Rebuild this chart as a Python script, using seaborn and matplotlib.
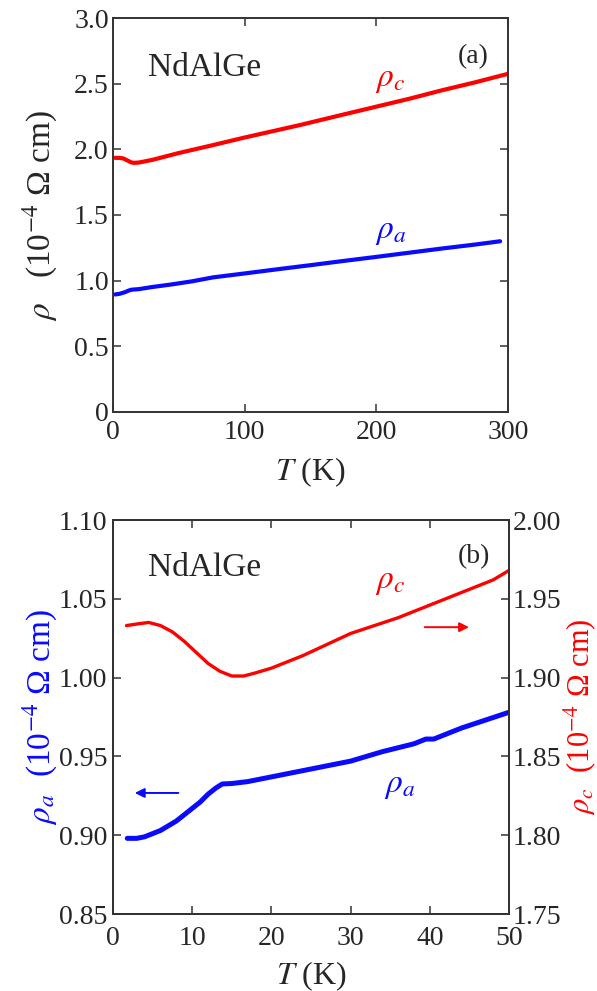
import numpy as np
import pandas as pd
import matplotlib
matplotlib.use("Agg")
import matplotlib.pyplot as plt
import seaborn as sns

# ---------------- data ----------------
# panel (a): 0-300 K
T_a_top = [1.5, 5, 9, 12, 14, 20, 30, 45, 60, 76, 80, 100, 125, 150, 175, 200, 225, 250, 275, 294]
rho_a_top = [0.895, 0.900, 0.912, 0.925, 0.931, 0.936, 0.952, 0.972, 0.995, 1.025, 1.030,
             1.055, 1.087, 1.118, 1.150, 1.181, 1.213, 1.245, 1.275, 1.300]
T_c_top = [1.5, 5, 8, 11, 14, 16, 20, 30, 50, 75, 100, 142, 175, 200, 225, 250, 275, 300]
rho_c_top = [1.935, 1.935, 1.930, 1.915, 1.900, 1.897, 1.900, 1.920, 1.972, 2.030, 2.090,
             2.185, 2.265, 2.325, 2.385, 2.450, 2.510, 2.575]

# panel (b): 0-50 K
T_a = [1.8, 3, 4, 5, 6, 7, 8, 9, 10, 11, 12, 13, 13.8, 15, 17, 20, 24, 28, 30, 34, 38,
       39.5, 40.5, 44, 47, 50]
rho_a = [0.898, 0.898, 0.899, 0.901, 0.903, 0.906, 0.909, 0.913, 0.917, 0.921, 0.926, 0.930,
         0.9325, 0.9328, 0.934, 0.937, 0.941, 0.945, 0.947, 0.953, 0.958, 0.961, 0.961,
         0.968, 0.973, 0.978]
T_c = [1.7, 3, 4.5, 6, 7.5, 9, 10.5, 12, 13.5, 15, 16.5, 18, 20, 22, 24, 27, 30, 33, 36,
       39, 42, 45, 48, 50]
rho_c = [1.933, 1.934, 1.935, 1.933, 1.929, 1.923, 1.916, 1.909, 1.904, 1.901, 1.901, 1.903,
         1.906, 1.910, 1.914, 1.921, 1.928, 1.933, 1.938, 1.944, 1.950, 1.956, 1.962, 1.968]

xticks_top = [0, 100, 200, 300]
yticks_top = [0, 0.5, 1.0, 1.5, 2.0, 2.5, 3.0]
yticklabels_top = ["0", "0.5", "1.0", "1.5", "2.0", "2.5", "3.0"]
xticks_bot = [0, 10, 20, 30, 40, 50]
yticks_left = [0.85, 0.90, 0.95, 1.00, 1.05, 1.10]
yticks_right = [1.75, 1.80, 1.85, 1.90, 1.95, 2.00]

# ---------------- style ----------------
sns.set_style("ticks")
plt.rcParams["font.family"] = ["Liberation Serif", "DejaVu Serif"]
plt.rcParams["mathtext.fontset"] = "stix"
SPINE = "#333333"
RED = "#ff0000"
BLUE = "#0a0aff"

W, H = 597, 991
fig = plt.figure(figsize=(W / 100, H / 100), dpi=100)


def fx(px):
    return px / W


def fy(py):
    return 1 - py / H


ax1 = fig.add_axes([fx(113), fy(412), 395 / W, 394 / H])
ax2 = fig.add_axes([fx(113), fy(914), 396 / W, 394 / H])
ax3 = ax2.twinx()

df_a_top = pd.DataFrame({"T": T_a_top, "rho": rho_a_top})
df_c_top = pd.DataFrame({"T": T_c_top, "rho": rho_c_top})
df_a = pd.DataFrame({"T": T_a, "rho": rho_a})
df_c = pd.DataFrame({"T": T_c, "rho": rho_c})

sns.lineplot(data=df_c_top, x="T", y="rho", ax=ax1, color=RED, lw=3.0)
sns.lineplot(data=df_a_top, x="T", y="rho", ax=ax1, color=BLUE, lw=3.0)
sns.lineplot(data=df_a, x="T", y="rho", ax=ax2, color=BLUE, lw=3.6)
sns.lineplot(data=df_c, x="T", y="rho", ax=ax3, color=RED, lw=2.4)

LABEL_FS = 24
YLAB = r"(10$^{-4}$ Ω cm)"

# axes (a)
ax1.set_xlim(0, 300)
ax1.set_ylim(0, 3.0)
ax1.set_xticks(xticks_top)
ax1.set_xticklabels([str(t) for t in xticks_top])
ax1.set_yticks(yticks_top)
ax1.set_yticklabels(yticklabels_top)
ax1.set_xlabel(r"$T$ (K)", fontsize=23, labelpad=7)
ax1.set_ylabel(r"$\rho$   " + YLAB, fontsize=LABEL_FS)
ax1.yaxis.set_label_coords(-0.135, 0.5)
ax1.tick_params(direction="in", top=True, right=True, length=6, width=1.1,
                labelsize=20, color=SPINE)
ax1.tick_params(axis="x", pad=6)
ax1.tick_params(axis="y", pad=3)

# axes (b)
ax2.set_xlim(0, 50)
ax2.set_ylim(0.85, 1.10)
ax3.set_ylim(1.75, 2.00)
ax2.set_xticks(xticks_bot)
ax2.set_xticklabels([str(t) for t in xticks_bot])
ax2.set_yticks(yticks_left)
ax2.set_yticklabels([f"{v:.2f}" for v in yticks_left])
ax3.set_yticks(yticks_right)
ax3.set_yticklabels([f"{v:.2f}" for v in yticks_right])
ax2.set_xlabel(r"$T$ (K)", fontsize=23, labelpad=6)
ax2.set_ylabel(r"$\rho_a$  " + YLAB, fontsize=LABEL_FS, color=BLUE)
ax2.yaxis.set_label_coords(-0.135, 0.5)
ax3.set_ylabel(r"$\rho_c$  " + YLAB, fontsize=22, color=RED, rotation=90,
               va="top")
ax3.yaxis.set_label_coords(1.133, 0.5)
ax2.tick_params(direction="in", top=True, right=False, length=6, width=1.1,
                labelsize=20, color=SPINE)
ax2.tick_params(axis="x", pad=8.5)
ax2.tick_params(axis="y", pad=4)
ax3.tick_params(direction="in", length=6, width=1.1, labelsize=20, color=SPINE, pad=2.5)

for a in (ax1, ax2, ax3):
    for s in a.spines.values():
        s.set_visible(True)
        s.set_color(SPINE)
        s.set_linewidth(1.4)

# annotations
fig.text(fx(148), fy(68), "NdAlGe", fontsize=24, ha="left", va="center")
fig.text(fx(458), fy(57), "(a)", fontsize=20, ha="left", va="center")
fig.text(fx(375), fy(80), r"$\rho_c$", fontsize=24, ha="left", va="center", color=RED)
fig.text(fx(375), fy(232), r"$\rho_a$", fontsize=24, ha="left", va="center", color=BLUE)

fig.text(fx(148), fy(568), "NdAlGe", fontsize=24, ha="left", va="center")
fig.text(fx(458), fy(557), "(b)", fontsize=20, ha="left", va="center")
fig.text(fx(375), fy(582), r"$\rho_c$", fontsize=24, ha="left", va="center", color=RED)
fig.text(fx(384), fy(786), r"$\rho_a$", fontsize=24, ha="left", va="center", color=BLUE)

ax2.annotate("", xy=(2.4, 0.9268), xytext=(8.6, 0.9268),
             arrowprops=dict(arrowstyle="-|>", color=BLUE, lw=1.4, mutation_scale=14))
ax3.annotate("", xy=(45.3, 1.932), xytext=(39.0, 1.932),
             arrowprops=dict(arrowstyle="-|>", color=RED, lw=1.4, mutation_scale=14))

fig.savefig("out.png", dpi=100)
